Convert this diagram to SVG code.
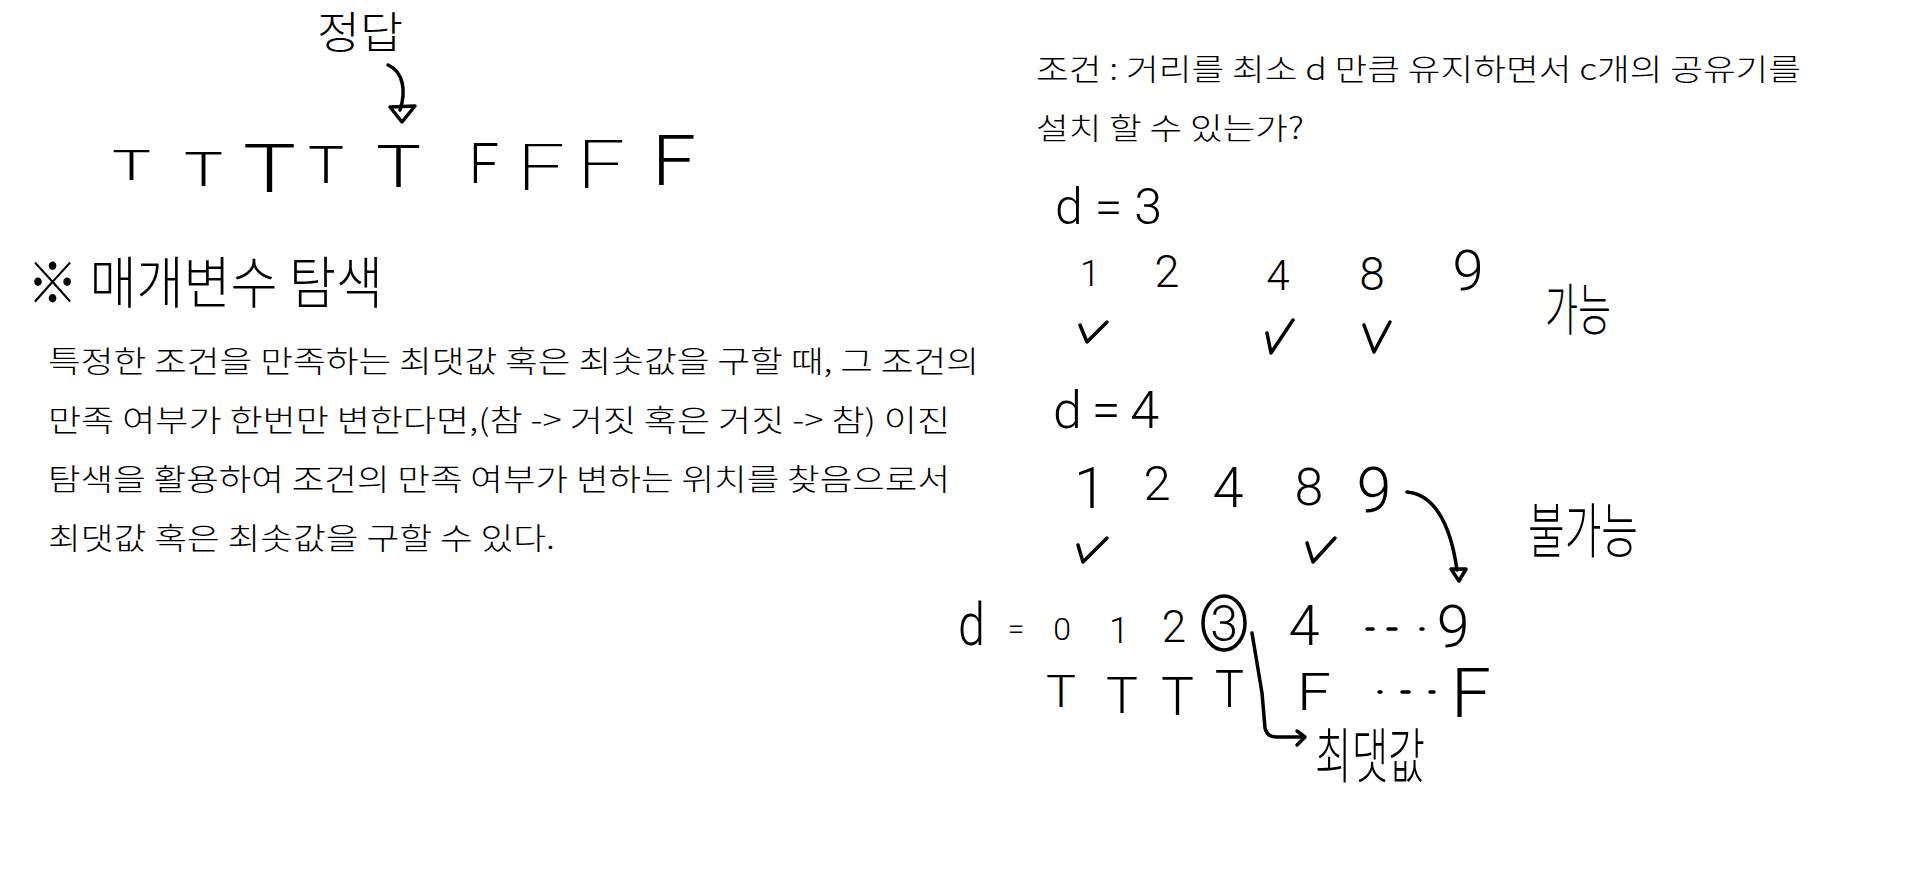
<svg xmlns="http://www.w3.org/2000/svg" width="1908" height="870" viewBox="0 0 1908 870">
<style>
.bg{fill:#ffffff}
.typed{font-family:"Noto Sans CJK KR","Noto Sans",sans-serif;font-size:30px;font-weight:300;fill:#000}
.hw{font-family:Roboto,"Open Sans","DejaVu Sans",sans-serif;font-weight:300;fill:#000;text-anchor:middle}
.hws{font-family:Roboto,"Open Sans","DejaVu Sans",sans-serif;font-weight:300;fill:#000}
.thin{font-weight:200}
.hwk{font-family:"Noto Sans CJK KR",sans-serif;font-weight:300;fill:#000}
.ink{fill:none;stroke:#000;stroke-width:3.5;stroke-linecap:round;stroke-linejoin:round}
</style>
<rect class="bg" x="0" y="0" width="1908" height="870"/>

<g id="label-jeongdap">
<text class="hwk" x="317" y="49" font-size="44" textLength="86" lengthAdjust="spacingAndGlyphs">정답</text>
</g>

<g id="tf-row-top">
<text class="hws" x="112" y="180" font-size="42" textLength="39" lengthAdjust="spacingAndGlyphs">T</text>
<text class="hws" x="184" y="186" font-size="48" textLength="39" lengthAdjust="spacingAndGlyphs">T</text>
<text class="hws" x="243" y="192" font-size="66" textLength="53" lengthAdjust="spacingAndGlyphs">T</text>
<text class="hws" x="308" y="183" font-size="52" textLength="36" lengthAdjust="spacingAndGlyphs">T</text>
<text class="hws" x="376" y="187" font-size="59" textLength="45" lengthAdjust="spacingAndGlyphs">T</text>
<text class="hws" x="469" y="183" font-size="56" textLength="30" lengthAdjust="spacingAndGlyphs">F</text>
<text class="hws thin" x="517" y="190" font-size="64" textLength="48" lengthAdjust="spacingAndGlyphs">F</text>
<text class="hws thin" x="577" y="188" font-size="67" textLength="48" lengthAdjust="spacingAndGlyphs">F</text>
<text class="hws" x="652" y="185" font-size="70" textLength="44" lengthAdjust="spacingAndGlyphs">F</text>
</g>

<g id="title-param-search">
<text class="hwk" x="27" y="303" font-size="56" textLength="356" lengthAdjust="spacingAndGlyphs">※ 매개변수 탐색</text>
</g>

<g id="paragraph">
<text class="typed" x="48" y="372" textLength="931" lengthAdjust="spacingAndGlyphs">특정한 조건을 만족하는 최댓값 혹은 최솟값을 구할 때, 그 조건의</text>
<text class="typed" x="48" y="431" textLength="902" lengthAdjust="spacingAndGlyphs">만족 여부가 한번만 변한다면,(참 -&gt; 거짓 혹은 거짓 -&gt; 참) 이진</text>
<text class="typed" x="48" y="490" textLength="902" lengthAdjust="spacingAndGlyphs">탐색을 활용하여 조건의 만족 여부가 변하는 위치를 찾음으로서</text>
<text class="typed" x="48" y="549" textLength="507" lengthAdjust="spacingAndGlyphs">최댓값 혹은 최솟값을 구할 수 있다.</text>
</g>

<g id="condition">
<text class="typed" x="1036" y="80" textLength="765" lengthAdjust="spacingAndGlyphs">조건 : 거리를 최소 d 만큼 유지하면서 c개의 공유기를</text>
<text class="typed" x="1036" y="139" textLength="268" lengthAdjust="spacingAndGlyphs">설치 할 수 있는가?</text>
</g>

<g id="case-d3">
<text class="hws" x="1055" y="224" font-size="50" textLength="107" lengthAdjust="spacing">d=3</text>
<text class="hw" x="1090" y="286" font-size="36">1</text>
<text class="hw" x="1167" y="287" font-size="45">2</text>
<text class="hw" x="1278" y="290" font-size="42">4</text>
<text class="hw" x="1372" y="290" font-size="46">8</text>
<text class="hw" x="1468" y="290" font-size="56">9</text>
<path class="ink" d="M1080,325 L1087,342 L1107,322"/>
<path class="ink" d="M1267,333 L1271,353 L1293,320"/>
<path class="ink" d="M1364,325 L1374,352 L1390,322"/>
<text class="hwk" x="1545" y="330" font-size="56" textLength="66" lengthAdjust="spacingAndGlyphs">가능</text>
</g>

<g id="case-d4">
<text class="hws" x="1053" y="428" font-size="52" textLength="106" lengthAdjust="spacing">d=4</text>
<text class="hw" x="1090" y="508" font-size="58">1</text>
<text class="hw" x="1157" y="500" font-size="49">2</text>
<text class="hw" x="1228" y="507" font-size="56">4</text>
<text class="hw" x="1309" y="505" font-size="52">8</text>
<text class="hw" x="1374" y="512" font-size="63">9</text>
<path class="ink" d="M1078,545 L1083,562 L1107,538"/>
<path class="ink" d="M1307,543 L1313,562 L1335,538"/>
<text class="hwk" x="1528" y="553" font-size="60" textLength="110" lengthAdjust="spacingAndGlyphs">불가능</text>
</g>

<g id="d-range">
<text class="hws" x="958" y="645" font-size="60" textLength="27" lengthAdjust="spacingAndGlyphs">d</text>
<text class="hw" x="1016" y="639" font-size="30">=</text>
<text class="hw" x="1062" y="640" font-size="32">0</text>
<text class="hw" x="1119" y="643" font-size="36">1</text>
<text class="hw" x="1174" y="642" font-size="44">2</text>
<ellipse class="ink" cx="1224" cy="623" rx="21" ry="27"/>
<text class="hw" x="1224" y="641" font-size="50">3</text>
<text class="hw" x="1304" y="645" font-size="56">4</text>
<path class="ink" d="M1367,629 L1373,629 M1388,629 L1396,629 M1421,629 L1423,629"/>
<text class="hw" x="1453" y="647" font-size="59">9</text>
</g>

<g id="tf-row-bottom">
<text class="hws" x="1046" y="707" font-size="45" textLength="30" lengthAdjust="spacingAndGlyphs">T</text>
<text class="hws" x="1106" y="713" font-size="50" textLength="32" lengthAdjust="spacingAndGlyphs">T</text>
<text class="hws" x="1161" y="715" font-size="53" textLength="33" lengthAdjust="spacingAndGlyphs">T</text>
<text class="hws" x="1215" y="707" font-size="52" textLength="29" lengthAdjust="spacingAndGlyphs">T</text>
<text class="hws" x="1297" y="710" font-size="52" textLength="34" lengthAdjust="spacingAndGlyphs">F</text>
<path class="ink" d="M1379,692 L1381,692 M1402,692 L1409,692 M1430,692 L1434,692"/>
<text class="hws" x="1451" y="717" font-size="69" textLength="40" lengthAdjust="spacingAndGlyphs">F</text>
</g>

<g id="label-max">
<text class="hwk" x="1315" y="778" font-size="60" textLength="110" lengthAdjust="spacingAndGlyphs">최댓값</text>
</g>

<g id="connectors">
<path class="ink" d="M388,65 C404,72 406,92 400,110"/>
<polygon class="ink" points="390,107 415,106 402,122"/>
<path class="ink" d="M1407,492 C1432,494 1450,520 1457,570"/>
<polygon class="ink" points="1451,569 1466,569 1459,581"/>
<path class="ink" d="M1252,633 L1262,693 L1265,728 Q1267,737 1276,737 L1304,737"/>
<path class="ink" d="M1297,731 L1305,737 L1297,745"/>
</g>
</svg>
